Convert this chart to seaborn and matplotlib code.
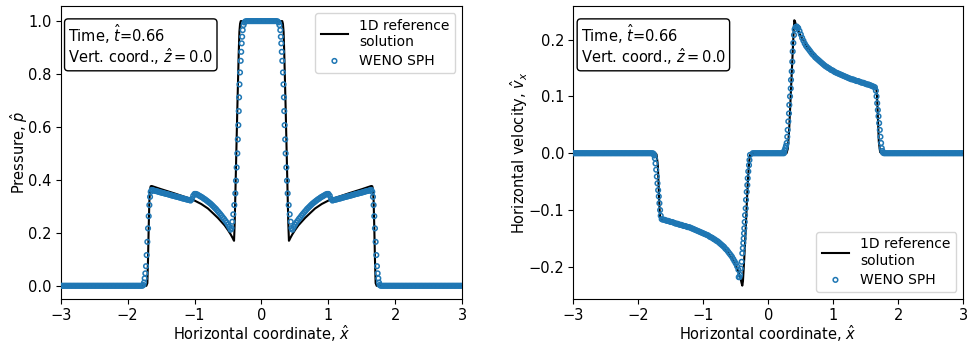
import numpy as np
import pandas as pd
import matplotlib
matplotlib.use("Agg")
import matplotlib.pyplot as plt
import matplotlib.transforms as mtransforms
import seaborn as sns

# ---------------- 1D reference solution ----------------
ref_p_x = [-3.0, -1.72, -1.705, -1.695, -1.685, -1.675, -1.665, -1.655, -1.64, -1.5,
           -1.3, -1.1, -1.0, -0.9, -0.8, -0.72, -0.65, -0.6, -0.55, -0.5,
           -0.46, -0.43, -0.415, -0.41, -0.40, -0.39, -0.38, -0.37, -0.36, -0.35,
           -0.34, -0.33, -0.32, -0.31, 0.31, 0.32, 0.33, 0.34, 0.35, 0.36,
           0.37, 0.38, 0.39, 0.40, 0.41, 0.415, 0.43, 0.46, 0.5, 0.55,
           0.6, 0.65, 0.72, 0.8, 0.9, 1.0, 1.1, 1.3, 1.5, 1.64,
           1.655, 1.665, 1.675, 1.685, 1.695, 1.705, 1.72, 3.0]
ref_p_y = [0.0, 0.0, 0.01, 0.1, 0.22, 0.32, 0.365, 0.376, 0.377, 0.365,
           0.349, 0.332, 0.322, 0.309, 0.292, 0.273, 0.256, 0.242, 0.228, 0.210,
           0.194, 0.180, 0.172, 0.170, 0.24, 0.35, 0.46, 0.57, 0.68, 0.78,
           0.88, 0.96, 0.99, 1.0, 1.0, 0.99, 0.96, 0.88, 0.78, 0.68,
           0.57, 0.46, 0.35, 0.24, 0.170, 0.172, 0.180, 0.194, 0.210, 0.228,
           0.242, 0.256, 0.273, 0.292, 0.309, 0.322, 0.332, 0.349, 0.365, 0.377,
           0.376, 0.365, 0.32, 0.22, 0.1, 0.01, 0.0, 0.0]

ref_v_x = [-3.0, -1.74, -1.72, -1.70, -1.69, -1.68, -1.67, -1.66, -1.64, -1.5,
           -1.3, -1.1, -0.9, -0.8, -0.7, -0.6, -0.55, -0.5, -0.46, -0.43,
           -0.41, -0.40, -0.39, -0.37, -0.35, -0.33, -0.31, -0.295, -0.28, -0.26,
           0.28, 0.30, 0.32, 0.34, 0.36, 0.38, 0.39, 0.40, 0.41, 0.43,
           0.46, 0.5, 0.6, 0.7, 0.85, 1.05, 1.3, 1.56, 1.64, 1.66,
           1.67, 1.68, 1.69, 1.70, 1.72, 1.74, 3.0]
ref_v_y = [0.0, 0.0, -0.002, -0.02, -0.05, -0.08, -0.105, -0.115, -0.117, -0.121,
           -0.128, -0.135, -0.147, -0.155, -0.165, -0.178, -0.186, -0.197, -0.209, -0.219,
           -0.229, -0.233, -0.225, -0.185, -0.14, -0.085, -0.04, -0.015, -0.003, 0.0,
           0.0, 0.008, 0.04, 0.09, 0.14, 0.19, 0.215, 0.234, 0.232, 0.224,
           0.216, 0.206, 0.187, 0.172, 0.156, 0.141, 0.129, 0.120, 0.116, 0.114,
           0.105, 0.08, 0.05, 0.02, 0.002, 0.0, 0.0]

# ---------------- WENO SPH particles (x segments shared by both panels) ----------------
sph_x_flat_left = [-3.00, -2.98, -2.96, -2.94, -2.92, -2.90, -2.88, -2.86, -2.84, -2.82,
                   -2.80, -2.78, -2.76, -2.74, -2.72, -2.70, -2.68, -2.66, -2.64, -2.62,
                   -2.60, -2.58, -2.56, -2.54, -2.52, -2.50, -2.48, -2.46, -2.44, -2.42,
                   -2.40, -2.38, -2.36, -2.34, -2.32, -2.30, -2.28, -2.26, -2.24, -2.22,
                   -2.20, -2.18, -2.16, -2.14, -2.12, -2.10, -2.08, -2.06, -2.04, -2.02,
                   -2.00, -1.98, -1.96, -1.94, -1.92, -1.90, -1.88, -1.86, -1.84, -1.82,
                   -1.80, -1.78]
sph_x_flat_right = [1.78, 1.80, 1.82, 1.84, 1.86, 1.88, 1.90, 1.92, 1.94, 1.96,
                    1.98, 2.00, 2.02, 2.04, 2.06, 2.08, 2.10, 2.12, 2.14, 2.16,
                    2.18, 2.20, 2.22, 2.24, 2.26, 2.28, 2.30, 2.32, 2.34, 2.36,
                    2.38, 2.40, 2.42, 2.44, 2.46, 2.48, 2.50, 2.52, 2.54, 2.56,
                    2.58, 2.60, 2.62, 2.64, 2.66, 2.68, 2.70, 2.72, 2.74, 2.76,
                    2.78, 2.80, 2.82, 2.84, 2.86, 2.88, 2.90, 2.92, 2.94, 2.96,
                    2.98, 3.00]
sph_flat_zero = [0.0, 0.0, 0.0, 0.0, 0.0, 0.0, 0.0, 0.0, 0.0, 0.0,
                 0.0, 0.0, 0.0, 0.0, 0.0, 0.0, 0.0, 0.0, 0.0, 0.0,
                 0.0, 0.0, 0.0, 0.0, 0.0, 0.0, 0.0, 0.0, 0.0, 0.0,
                 0.0, 0.0, 0.0, 0.0, 0.0, 0.0, 0.0, 0.0, 0.0, 0.0,
                 0.0, 0.0, 0.0, 0.0, 0.0, 0.0, 0.0, 0.0, 0.0, 0.0,
                 0.0, 0.0, 0.0, 0.0, 0.0, 0.0, 0.0, 0.0, 0.0, 0.0,
                 0.0, 0.0]

sph_x_outer_left = [-1.765, -1.755, -1.745, -1.735, -1.725, -1.715, -1.705, -1.695, -1.685, -1.675, -1.665, -1.655]
sph_x_outer_right = [1.655, 1.665, 1.675, 1.685, 1.695, 1.705, 1.715, 1.725, 1.735, 1.745, 1.755, 1.765]

sph_x_curve_left = [-1.64, -1.62, -1.60, -1.58, -1.56, -1.54, -1.52, -1.50, -1.48, -1.46,
                    -1.44, -1.42, -1.40, -1.38, -1.36, -1.34, -1.32, -1.30, -1.28, -1.26,
                    -1.24, -1.22, -1.20, -1.18, -1.16, -1.14, -1.12, -1.10, -1.08, -1.06,
                    -1.04, -1.02, -1.00, -0.98, -0.96, -0.94, -0.92, -0.90, -0.88, -0.86,
                    -0.84, -0.82, -0.80, -0.78, -0.76, -0.74, -0.72, -0.70, -0.68, -0.66,
                    -0.64, -0.62, -0.60, -0.58, -0.56, -0.54, -0.52, -0.50, -0.48, -0.46]
sph_x_curve_right = [0.46, 0.48, 0.50, 0.52, 0.54, 0.56, 0.58, 0.60, 0.62, 0.64,
                     0.66, 0.68, 0.70, 0.72, 0.74, 0.76, 0.78, 0.80, 0.82, 0.84,
                     0.86, 0.88, 0.90, 0.92, 0.94, 0.96, 0.98, 1.00, 1.02, 1.04,
                     1.06, 1.08, 1.10, 1.12, 1.14, 1.16, 1.18, 1.20, 1.22, 1.24,
                     1.26, 1.28, 1.30, 1.32, 1.34, 1.36, 1.38, 1.40, 1.42, 1.44,
                     1.46, 1.48, 1.50, 1.52, 1.54, 1.56, 1.58, 1.60, 1.62, 1.64]

sph_x_top = [-0.24, -0.22, -0.20, -0.18, -0.16, -0.14, -0.12, -0.10, -0.08, -0.06,
             -0.04, -0.02, 0.00, 0.02, 0.04, 0.06, 0.08, 0.10, 0.12, 0.14,
             0.16, 0.18, 0.20, 0.22, 0.24]

# ---- pressure particle values ----
p_outer_left = [0.003, 0.012, 0.028, 0.047, 0.074, 0.116, 0.166, 0.217, 0.263, 0.305, 0.336, 0.355]
p_outer_right = [0.355, 0.336, 0.305, 0.263, 0.217, 0.166, 0.116, 0.074, 0.047, 0.028, 0.012, 0.003]
p_curve_left = [0.362, 0.361, 0.359, 0.358, 0.357, 0.355, 0.354, 0.352, 0.351, 0.350,
                0.348, 0.347, 0.346, 0.344, 0.343, 0.341, 0.340, 0.339, 0.337, 0.336,
                0.335, 0.333, 0.332, 0.330, 0.329, 0.328, 0.326, 0.325, 0.324, 0.322,
                0.328, 0.340, 0.347, 0.347, 0.345, 0.342, 0.339, 0.336, 0.333, 0.329,
                0.326, 0.322, 0.318, 0.314, 0.310, 0.305, 0.300, 0.295, 0.290, 0.284,
                0.278, 0.272, 0.266, 0.259, 0.253, 0.246, 0.239, 0.231, 0.222, 0.212]
p_curve_right = [0.212, 0.222, 0.231, 0.239, 0.246, 0.253, 0.259, 0.266, 0.272, 0.278,
                 0.284, 0.290, 0.295, 0.300, 0.305, 0.310, 0.314, 0.318, 0.322, 0.326,
                 0.329, 0.333, 0.336, 0.339, 0.342, 0.345, 0.347, 0.347, 0.340, 0.328,
                 0.322, 0.324, 0.325, 0.326, 0.328, 0.329, 0.330, 0.332, 0.333, 0.335,
                 0.336, 0.337, 0.339, 0.340, 0.341, 0.343, 0.344, 0.346, 0.347, 0.348,
                 0.350, 0.351, 0.352, 0.354, 0.355, 0.357, 0.358, 0.359, 0.361, 0.362]
p_x_inner_left = [-0.448, -0.436, -0.421, -0.406, -0.391, -0.381, -0.371, -0.361, -0.354, -0.346,
                  -0.340, -0.335, -0.329, -0.321, -0.311, -0.303, -0.296, -0.289, -0.281, -0.268, -0.255]
p_inner_left = [0.218, 0.242, 0.270, 0.305, 0.349, 0.397, 0.447, 0.500, 0.553, 0.607,
                0.660, 0.712, 0.761, 0.806, 0.850, 0.884, 0.916, 0.941, 0.966, 0.985, 0.995]
p_x_inner_right = [0.255, 0.268, 0.281, 0.289, 0.296, 0.303, 0.311, 0.321, 0.329, 0.335,
                   0.340, 0.346, 0.354, 0.361, 0.371, 0.381, 0.391, 0.406, 0.421, 0.436, 0.448]
p_inner_right = [0.995, 0.985, 0.966, 0.941, 0.916, 0.884, 0.850, 0.806, 0.761, 0.712,
                 0.660, 0.607, 0.553, 0.500, 0.447, 0.397, 0.349, 0.305, 0.270, 0.242, 0.218]
p_top = [0.999, 1.0, 1.0, 1.0, 1.0, 1.0, 1.0, 1.0, 1.0, 1.0,
         1.0, 1.0, 1.0, 1.0, 1.0, 1.0, 1.0, 1.0, 1.0, 1.0,
         1.0, 1.0, 1.0, 1.0, 0.999]

# ---- velocity particle values ----
v_outer_left = [-0.001, -0.004, -0.009, -0.018, -0.029, -0.041, -0.053, -0.065, -0.076, -0.088, -0.100, -0.110]
v_outer_right = [0.110, 0.100, 0.088, 0.076, 0.065, 0.053, 0.041, 0.029, 0.018, 0.009, 0.004, 0.001]
v_curve_left = [-0.116, -0.117, -0.117, -0.118, -0.119, -0.119, -0.120, -0.121, -0.121, -0.122,
                -0.123, -0.124, -0.124, -0.125, -0.126, -0.126, -0.127, -0.128, -0.128, -0.129,
                -0.130, -0.130, -0.131, -0.132, -0.133, -0.134, -0.135, -0.136, -0.137, -0.138,
                -0.139, -0.140, -0.141, -0.142, -0.143, -0.144, -0.145, -0.147, -0.148, -0.149,
                -0.151, -0.152, -0.154, -0.155, -0.157, -0.159, -0.161, -0.163, -0.165, -0.168,
                -0.170, -0.173, -0.176, -0.179, -0.182, -0.186, -0.190, -0.194, -0.199, -0.205]
v_curve_right = [0.220, 0.215, 0.209, 0.203, 0.198, 0.193, 0.189, 0.186, 0.183, 0.180,
                 0.177, 0.174, 0.172, 0.169, 0.167, 0.165, 0.163, 0.161, 0.159, 0.157,
                 0.155, 0.153, 0.152, 0.150, 0.149, 0.147, 0.146, 0.145, 0.143, 0.142,
                 0.141, 0.140, 0.139, 0.138, 0.137, 0.136, 0.135, 0.134, 0.133, 0.132,
                 0.131, 0.130, 0.130, 0.129, 0.128, 0.127, 0.127, 0.126, 0.125, 0.124,
                 0.124, 0.123, 0.122, 0.121, 0.121, 0.120, 0.119, 0.118, 0.117, 0.116]
v_x_inner_left = [-0.455, -0.445, -0.435, -0.423, -0.410, -0.400, -0.392, -0.385, -0.379, -0.374,
                  -0.369, -0.363, -0.358, -0.348, -0.343, -0.332, -0.323, -0.317, -0.308, -0.297,
                  -0.290, -0.282]
v_inner_left = [-0.218, -0.218, -0.214, -0.203, -0.191, -0.176, -0.167, -0.158, -0.150, -0.141,
                -0.132, -0.121, -0.109, -0.097, -0.082, -0.068, -0.056, -0.044, -0.032, -0.021,
                -0.012, -0.003]
v_x_inner_right = [0.235, 0.250, 0.262, 0.272, 0.283, 0.292, 0.298, 0.308, 0.318, 0.323,
                   0.334, 0.345, 0.349, 0.360, 0.369, 0.375, 0.385, 0.395, 0.405, 0.420,
                   0.437, 0.452]
v_inner_right = [0.002, 0.005, 0.009, 0.013, 0.018, 0.029, 0.041, 0.056, 0.070, 0.085,
                 0.100, 0.114, 0.129, 0.144, 0.161, 0.179, 0.194, 0.208, 0.218, 0.222,
                 0.223, 0.221]
v_top = [0.0, 0.0, 0.0, 0.0, 0.0, 0.0, 0.0, 0.0, 0.0, 0.0,
         0.0, 0.0, 0.0, 0.0, 0.0, 0.0, 0.0, 0.0, 0.0, 0.0,
         0.0, 0.0, 0.0, 0.0, 0.0]

x_ticks = [-3, -2, -1, 0, 1, 2, 3]
label_ref = "1D reference\nsolution"
label_sph = "WENO SPH"
info_text = "Time, $\\hat{t}$=0.66\nVert. coord., $\\hat{z}=0.0$"

# ---------------- assemble tables ----------------
sph_p = pd.DataFrame({
    "x": sph_x_flat_left + sph_x_outer_left + sph_x_curve_left + p_x_inner_left + sph_x_top
         + p_x_inner_right + sph_x_curve_right + sph_x_outer_right + sph_x_flat_right,
    "y": sph_flat_zero + p_outer_left + p_curve_left + p_inner_left + p_top
         + p_inner_right + p_curve_right + p_outer_right + sph_flat_zero,
})
sph_v = pd.DataFrame({
    "x": sph_x_flat_left + sph_x_outer_left + sph_x_curve_left + v_x_inner_left + sph_x_top
         + v_x_inner_right + sph_x_curve_right + sph_x_outer_right + sph_x_flat_right,
    "y": sph_flat_zero + v_outer_left + v_curve_left + v_inner_left + v_top
         + v_inner_right + v_curve_right + v_outer_right + sph_flat_zero,
})
ref_p = pd.DataFrame({"x": ref_p_x, "y": ref_p_y})
ref_v = pd.DataFrame({"x": ref_v_x, "y": ref_v_y})

FS = 10.5
plt.rcParams["font.family"] = ["DejaVu Sans"]
plt.rcParams["font.size"] = FS

fig = plt.figure(figsize=(9.77, 3.46), dpi=100)
axL = fig.add_axes([0.0621, 0.1358, 0.4111, 0.8468])
axR = fig.add_axes([0.5868, 0.1358, 0.3992, 0.8468])

sph_color = "#1f77b4"


def draw(ax, ref, sph, ylabel, ylim, legend_loc):
    sns.lineplot(data=ref, x="x", y="y", ax=ax, color="black", linewidth=1.5,
                 sort=False, estimator=None, label=label_ref, zorder=2)
    sns.scatterplot(data=sph, x="x", y="y", ax=ax, marker="o", s=11,
                    facecolor="none", edgecolor=sph_color, linewidth=1.1,
                    label=label_sph, zorder=3)
    ax.set_xlim(-3, 3)
    ax.set_ylim(*ylim)
    ax.set_xticks(x_ticks)
    ax.tick_params(labelsize=FS, pad=3)
    ax.set_xlabel("Horizontal coordinate, $\\hat{x}$", fontsize=FS, labelpad=0)
    ax.set_ylabel(ylabel, fontsize=FS, labelpad=-1)
    leg = ax.legend(loc=legend_loc, fontsize=10, labelspacing=0.35)
    leg.set_zorder(5)
    tr = mtransforms.offset_copy(ax.transAxes, fig=fig, x=7.5, y=-16.5, units="dots")
    ax.text(0.0, 1.0, info_text, transform=tr, ha="left", va="top",
            fontsize=FS, linespacing=1.0, zorder=5,
            bbox=dict(boxstyle="round,pad=0.25", facecolor="white", edgecolor="black"))


draw(axL, ref_p, sph_p, "Pressure, $\\hat{p}$", (-0.05, 1.057), "upper right")
draw(axR, ref_v, sph_v, "Horizontal velocity, $\\hat{v}_x$", (-0.2565, 0.259), "lower right")

fig.savefig("out.png", dpi=100)
